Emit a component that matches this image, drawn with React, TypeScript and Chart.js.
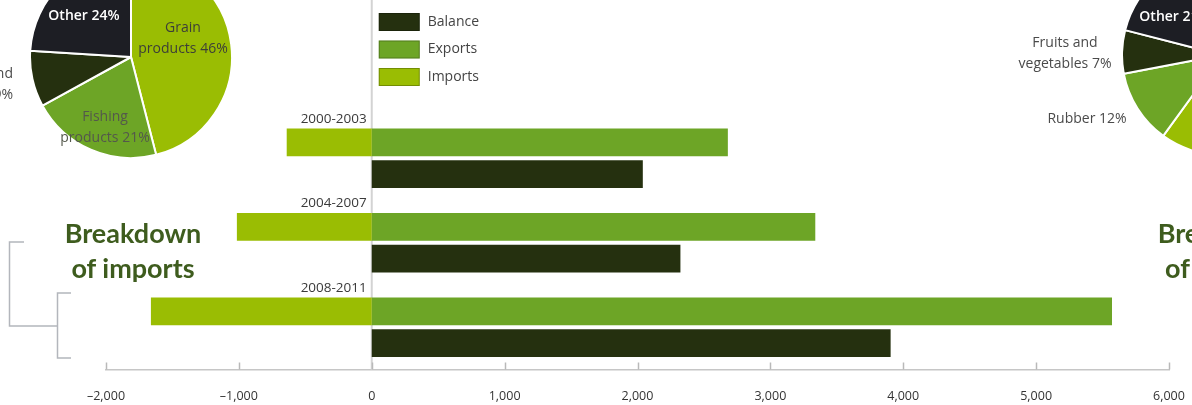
import React, { useEffect, useRef } from 'react';
import { Chart, registerables } from 'chart.js';

Chart.register(...registerables);

// ---------- data ----------
const periods = ['2000-2003', '2004-2007', '2008-2011'];
const importsValues = [-640, -1015, -1662];
const exportsValues = [2680, 3338, 5571];
const balanceValues = [2040, 2323, 3905];

const xMin = -2000;
const xMax = 6000;
const xStep = 1000;
const xTickLabels = ['–2,000', '–1,000', '0', '1,000', '2,000', '3,000', '4,000', '5,000', '6,000'];

const importCategories = ['Grain products', 'Fishing products', 'Fruits and vegetables', 'Other'];
const importShares = [46, 21, 9, 24];

const exportCategories = ['Main products', 'Rubber', 'Fruits and vegetables', 'Other'];
const exportShares = [60, 12, 7, 21];

// ---------- styles ----------
const FONT = '"Open Sans", "DejaVu Sans", sans-serif';
const C_IMP = '#9abd03';
const C_EXP = '#6da526';
const C_BAL = '#25300f';
const C_OTHER = '#1d1e24';
const pieColors = [C_IMP, C_EXP, C_BAL, C_OTHER];

type PieLabel = { lines: string[]; dx: number; dy: number; color: string; weight: string };

const importPieLabels: (PieLabel | null)[] = [
  { lines: ['Grain', 'products 46%'], dx: 52, dy: -18, color: '#3d3f38', weight: '400' },
  { lines: ['Fishing', 'products 21%'], dx: -26, dy: 71, color: '#54584c', weight: '400' },
  null,
  { lines: ['Other 24%'], dx: -47, dy: -41, color: '#ffffff', weight: '600' },
];
const exportPieLabels: (PieLabel | null)[] = [
  null,
  null,
  null,
  { lines: ['Other 21%'], dx: -47, dy: -38, color: '#ffffff', weight: '600' },
];

function pieLabelPlugin(labels: (PieLabel | null)[]) {
  return {
    id: 'pieLabels',
    afterDraw(chart: any) {
      const ctx = chart.ctx;
      const arc = chart.getDatasetMeta(0).data[0];
      if (!arc) return;
      const cx = arc.x;
      const cy = arc.y;
      ctx.save();
      ctx.textAlign = 'center';
      ctx.textBaseline = 'middle';
      labels.forEach((l) => {
        if (!l) return;
        ctx.fillStyle = l.color;
        ctx.font = `${l.weight} 14px ${FONT}`;
        const n = l.lines.length;
        l.lines.forEach((t, i) => {
          ctx.fillText(t, cx + l.dx, cy + l.dy + (i - (n - 1) / 2) * 21);
        });
      });
      ctx.restore();
    },
  };
}

const decorPlugin = {
  id: 'decor',
  beforeDatasetsDraw(chart: any) {
    const { ctx, chartArea, scales } = chart;
    const x0 = scales.x.getPixelForValue(0);
    ctx.save();
    ctx.strokeStyle = '#d3d3d3';
    ctx.lineWidth = 2;
    ctx.beginPath();
    ctx.moveTo(x0, 0);
    ctx.lineTo(x0, chartArea.bottom);
    ctx.stroke();
    ctx.restore();
  },
  afterDraw(chart: any) {
    const { ctx, chartArea, scales } = chart;
    const xs = scales.x;
    const ys = scales.y;
    ctx.save();
    // ticks pointing up from the axis line
    ctx.strokeStyle = '#b9b9b9';
    ctx.lineWidth = 1.5;
    xs.ticks.forEach((t: any) => {
      const px = Math.round(xs.getPixelForValue(t.value)) + 0.5;
      ctx.beginPath();
      ctx.moveTo(px, chartArea.bottom - 7);
      ctx.lineTo(px, chartArea.bottom);
      ctx.stroke();
    });
    // period labels above each group
    const h = (chartArea.bottom - chartArea.top) / periods.length;
    ctx.fillStyle = '#3a3a3a';
    ctx.font = `400 13.5px ${FONT}`;
    ctx.textAlign = 'right';
    ctx.textBaseline = 'middle';
    const x0 = xs.getPixelForValue(0);
    periods.forEach((p, i) => {
      const top = ys.getPixelForValue(i) - h / 2;
      ctx.fillText(p, x0 - 5, top + 3);
    });
    // legend
    const ds = [...chart.data.datasets].reverse();
    ds.forEach((d: any, i: number) => {
      const by = 13 + i * 27.5;
      ctx.fillStyle = d.backgroundColor;
      ctx.fillRect(x0 + 7, by, 41, 18);
      ctx.strokeStyle = 'rgba(0,0,0,0.25)';
      ctx.lineWidth = 1;
      ctx.strokeRect(x0 + 7.5, by + 0.5, 40, 17);
      ctx.fillStyle = '#444';
      ctx.font = `400 14px ${FONT}`;
      ctx.textAlign = 'left';
      ctx.fillText(d.label, x0 + 56, by + 9);
    });
    // bracket lines on the left
    ctx.strokeStyle = '#b3b6bc';
    ctx.lineWidth = 1.5;
    ctx.beginPath();
    ctx.moveTo(24, 242);
    ctx.lineTo(9.5, 242);
    ctx.lineTo(9.5, 326);
    ctx.lineTo(57.5, 326);
    ctx.moveTo(71, 293);
    ctx.lineTo(57.5, 293);
    ctx.lineTo(57.5, 358);
    ctx.lineTo(71, 358);
    ctx.stroke();
    ctx.restore();
  },
};

function makePie(canvas: HTMLCanvasElement, labels: string[], values: number[], lbl: (PieLabel | null)[]) {
  return new Chart(canvas, {
    type: 'pie',
    data: {
      labels,
      datasets: [
        {
          data: values,
          backgroundColor: pieColors,
          borderColor: '#ffffff',
          borderWidth: 2,
        },
      ],
    },
    options: {
      responsive: false,
      animation: false,
      layout: { padding: 0 },
      plugins: { legend: { display: false }, tooltip: { enabled: false } },
    },
    plugins: [pieLabelPlugin(lbl)],
  } as any);
}

export default function App() {
  const mainRef = useRef<HTMLCanvasElement>(null);
  const leftRef = useRef<HTMLCanvasElement>(null);
  const rightRef = useRef<HTMLCanvasElement>(null);

  useEffect(() => {
    const charts: Chart[] = [];
    charts.push(
      new Chart(mainRef.current!, {
        type: 'bar',
        data: {
          labels: periods,
          datasets: [
            { label: 'Imports', data: importsValues, backgroundColor: C_IMP, stack: 'trade' },
            { label: 'Exports', data: exportsValues, backgroundColor: C_EXP, stack: 'trade' },
            { label: 'Balance', data: balanceValues, backgroundColor: C_BAL, stack: 'balance' },
          ],
        },
        options: {
          indexAxis: 'y',
          responsive: false,
          maintainAspectRatio: false,
          animation: false,
          categoryPercentage: 0.75,
          barPercentage: 0.873,
          layout: { padding: { left: 106, right: 23, top: 116, bottom: 0 } },
          plugins: { legend: { display: false }, tooltip: { enabled: false } },
          scales: {
            x: {
              min: xMin,
              max: xMax,
              stacked: true,
              grid: { display: false, drawTicks: false, tickLength: 0 },
              border: { display: true, color: '#c6c6c6', width: 1.5 },
              ticks: {
                stepSize: xStep,
                padding: 19,
                maxRotation: 0,
                autoSkip: false,
                color: '#333',
                font: { family: FONT, size: 12.5 },
                callback: (v: any) => xTickLabels[Math.round((Number(v) - xMin) / xStep)] ?? '',
              },
              afterFit: (scale: any) => {
                scale.height = 35.5;
                scale.paddingLeft = 0;
                scale.paddingRight = 0;
              },
            },
            y: { display: false },
          },
        },
        plugins: [decorPlugin],
      } as any)
    );
    charts.push(makePie(leftRef.current!, importCategories, importShares, importPieLabels));
    charts.push(makePie(rightRef.current!, exportCategories, exportShares, exportPieLabels));
    return () => charts.forEach((c) => c.destroy());
  }, []);

  const heading: React.CSSProperties = {
    position: 'absolute',
    width: 200,
    textAlign: 'center',
    fontFamily: 'Lato, sans-serif',
    fontWeight: 700,
    fontSize: 27,
    lineHeight: '35px',
    color: '#3e5c1e',
    whiteSpace: 'nowrap',
  };
  const note: React.CSSProperties = {
    position: 'absolute',
    fontFamily: FONT,
    fontSize: 14,
    lineHeight: '21px',
    color: '#4a4a4a',
    whiteSpace: 'nowrap',
  };

  return (
    <div
      style={{
        position: 'fixed',
        left: 0,
        top: 0,
        width: 1192,
        height: 405,
        overflow: 'hidden',
        background: '#ffffff',
      }}
    >
      <canvas ref={mainRef} width={1192} height={405} style={{ position: 'absolute', left: 0, top: 0 }} />
      <canvas ref={leftRef} width={204} height={204} style={{ position: 'absolute', left: 29, top: -45 }} />
      <canvas ref={rightRef} width={202} height={202} style={{ position: 'absolute', left: 1121, top: -46 }} />
      <div style={{ ...heading, left: 33, top: 215 }}>
        Breakdown
        <br />
        of imports
      </div>
      <div style={{ ...heading, left: 1126, top: 215 }}>
        Breakdown
        <br />
        of exports
      </div>
      <div style={{ ...note, right: 1179, top: 62, textAlign: 'right' }}>
        Fruits and
        <br />
        vegetables 9%
      </div>
      <div style={{ ...note, left: 965, width: 200, top: 31, textAlign: 'center' }}>
        Fruits and
        <br />
        vegetables 7%
      </div>
      <div style={{ ...note, left: 987, width: 200, top: 107, textAlign: 'center' }}>Rubber 12%</div>
    </div>
  );
}
